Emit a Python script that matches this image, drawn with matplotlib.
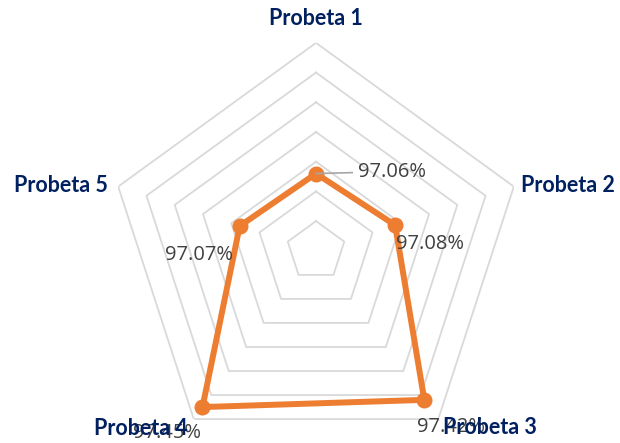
import numpy as np
import matplotlib
matplotlib.use('Agg')
import matplotlib.pyplot as plt

categories = ['Probeta 1', 'Probeta 2', 'Probeta 3', 'Probeta 4', 'Probeta 5']
values = [97.06, 97.08, 97.42, 97.45, 97.07]
value_labels = ['97.06%', '97.08%', '97.42%', '97.45%', '97.07%']
r_min, r_max, r_step = 96.8, 97.5, 0.1

orange = '#ED7D31'
navy = '#002060'
label_grey = '#404040'
grid_grey = '#D9D9D9'

fig = plt.figure(figsize=(6.2, 4.43), dpi=100)
ax = fig.add_axes([0.1742, -0.0357, 0.671, 0.939], projection='polar')
ax.set_theta_zero_location('N')
ax.set_theta_direction(-1)
ax.set_ylim(r_min, r_max)
ax.grid(False)
ax.set_xticks([])
ax.set_yticks([])
ax.spines['polar'].set_visible(False)
ax.patch.set_visible(False)

n = len(categories)
theta = np.linspace(0, 2 * np.pi, n, endpoint=False)
theta_closed = np.append(theta, theta[0])

# pentagon gridlines
rings = np.arange(r_min + r_step, r_max + r_step / 2, r_step)
for r in rings:
    ax.plot(theta_closed, [r] * (n + 1), color=grid_grey, lw=1.3, zorder=1)

# data series
vals_closed = values + values[:1]
ax.plot(theta_closed, vals_closed, color=orange, lw=4.3, zorder=3,
        solid_joinstyle='miter')
ax.plot(theta, values, 'o', color=orange, ms=10.5, zorder=4)

# category labels (offsets in pixels from the outer vertex)
cat_offsets = [(0, 24, 'center', 'center'), (7, 1, 'left', 'center'),
               (5, -8, 'left', 'center'), (-6, -9, 'right', 'center'),
               (-10, 1, 'right', 'center')]
for t, name, (dx, dy, ha, va) in zip(theta, categories, cat_offsets):
    ax.annotate(name, (t, r_max), xytext=(dx, dy), textcoords='offset pixels',
                ha=ha, va=va, fontsize=15.5, fontweight='bold', color=navy,
                family='Lato', annotation_clip=False, zorder=6)

# data labels
lab_offsets = [(42, 2, 'left'), (1, -19, 'left'), (-7, -27, 'left'),
               (-69, -26, 'left'), (-75, -29, 'left')]
for i, (t, v, txt, (dx, dy, ha)) in enumerate(zip(theta, values, value_labels, lab_offsets)):
    arrow = None
    if i == 0:
        arrow = dict(arrowstyle='-', color='#A6A6A6', lw=1.2, shrinkA=2, shrinkB=0)
    ax.annotate(txt, (t, v), xytext=(dx, dy), textcoords='offset pixels',
                ha=ha, va='center', fontsize=14.5, color=label_grey,
                family='Open Sans', annotation_clip=False, zorder=5,
                arrowprops=arrow)

fig.savefig('out.png', dpi=100)
